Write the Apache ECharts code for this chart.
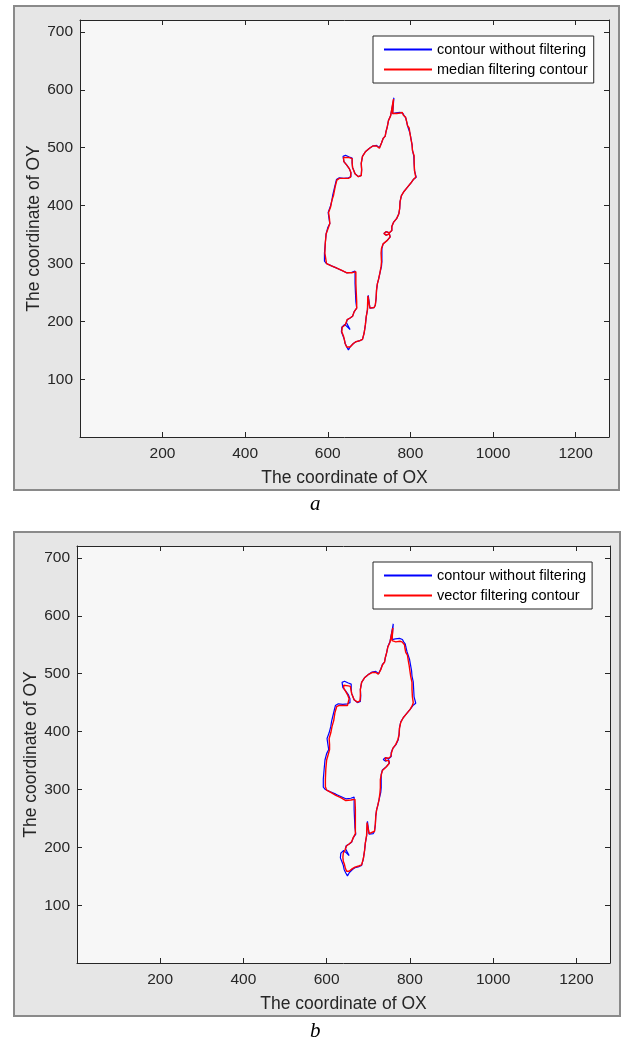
<!DOCTYPE html>
<html>
<head>
<meta charset="utf-8">
<title>contour filtering</title>
<script src="https://cdn.jsdelivr.net/npm/echarts@6/dist/echarts.min.js"></script>
<style>
  html, body { margin: 0; padding: 0; background: #ffffff; }
  #main { width: 621px; height: 1043px; }
</style>
</head>
<body>
<div id="main"></div>
<script>
var xTicks = [200, 400, 600, 800, 1000, 1200];
var yTicks = [100, 200, 300, 400, 500, 600, 700];

// contour without filtering (raw boundary, image pixel coords)
var rawContour = [
  [760,586],[757,559],[765,560],[768,562],[775,561],[779,563],[782,559],[785,555],[789,551],[790,547],
  [793,546],[793,538],[796,537],[799,525],[802,523],[804,505],[805,496],[807,494],[808,486],[811,484],
  [810,460],[813,458],[814,449],[807,445],[801,439],[793,432],[784,424],[778,417],[775,407],[774,395],
  [772,386],[767,378],[759,371],[755,364],[755,357],[749,353],[741,355],[736,352],[741,349],[749,351],
  [751,346],[744,340],[734,334],[731,326],[731,318],[731,303],[730,295],[726,283],[723,273],[720,265],
  [718,254],[717,240],[715,228],[712,224],[702,223],[698,221],[698,245],[696,220],[693,208],[691,194],
  [688,180],[684,169],[678,167],[668,165],[662,162],[654,156],[650,151],[646,156],[642,162],[640,169],
  [637,175],[633,182],[634,190],[641,195],[654,186],[645,198],[647,203],[654,206],[660,209],[664,217],
  [670,223],[668,234],[667,249],[666,266],[666,287],[658,285],[646,284],[634,288],[622,292],[609,296],
  [597,300],[592,304],[592,318],[594,335],[596,351],[600,362],[605,369],[603,378],[601,388],[606,398],
  [610,409],[612,418],[616,420],[617,433],[621,445],[628,448],[639,447],[650,448],[656,450],[656,457],
  [652,464],[646,470],[639,476],[637,485],[643,487],[652,484],[659,482],[659,474],[660,466],[666,455],
  [674,450],[681,452],[682,462],[681,473],[684,485],[691,493],[701,499],[709,503],[718,504],[725,500],
  [730,508],[734,516],[739,520],[741,528],[744,536],[747,547],[752,555],[760,586]
];

// median filtering contour
var medianContour = [
  [759,584],[757,559],[767,559],[775,560],[780,561],[783,556],[788,553],[791,545],[793,538],[797,534],
  [799,524],[801,516],[804,505],[805,495],[809,486],[809,473],[810,460],[813,449],[807,445],[801,439],
  [793,432],[784,424],[778,417],[775,407],[774,395],[772,386],[767,378],[759,371],[755,364],[755,357],
  [749,353],[741,355],[736,352],[741,349],[749,351],[751,346],[744,340],[734,334],[730,326],[729,318],
  [730,303],[729,295],[726,283],[723,273],[720,265],[718,254],[717,240],[715,228],[712,224],[702,223],
  [698,221],[697,244],[696,220],[693,208],[691,194],[688,180],[684,169],[678,167],[668,165],[662,162],
  [654,156],[651,153],[646,156],[642,162],[640,169],[638,175],[634,182],[635,190],[642,194],[647,203],
  [654,206],[660,209],[664,217],[670,223],[670,234],[669,249],[668,266],[668,286],[658,284],[646,284],
  [634,288],[622,292],[609,296],[597,300],[593,303],[593,318],[594,335],[596,351],[601,361],[605,369],
  [604,378],[602,388],[607,398],[610,409],[614,418],[618,433],[622,444],[628,447],[639,447],[650,447],
  [655,449],[656,457],[652,464],[646,470],[639,476],[638,483],[642,486],[652,483],[659,481],[659,474],
  [660,466],[666,455],[674,450],[681,452],[682,462],[681,473],[684,485],[691,493],[701,499],[709,503],
  [718,503],[725,499],[730,508],[734,516],[739,520],[741,528],[744,536],[747,547],[752,555],[759,584]
];

// vector filtering contour (smoother, cuts the raw corners)
var vectorContour = [
  [759,579],[757,557],[766,555],[776,556],[781,555],[784,553],[787,550],[788,544],[790,537],[794,532],
  [796,523],[798,515],[800,505],[802,495],[805,485],[805,473],[806,460],[808,450],[805,444],[800,438],
  [792,431],[784,424],[778,416],[775,406],[774,395],[771,386],[766,378],[759,371],[756,364],[754,357],
  [748,354],[741,355],[738,352],[742,350],[749,350],[750,345],[743,339],[734,333],[731,325],[729,317],
  [729,303],[728,294],[726,283],[723,273],[720,265],[718,254],[717,240],[715,228],[711,225],[702,224],
  [698,222],[697,243],[696,221],[693,208],[691,194],[688,180],[684,170],[677,168],[668,166],[661,163],
  [654,159],[652,157],[648,159],[645,164],[643,170],[640,176],[639,183],[640,190],[644,195],[648,203],
  [654,206],[660,210],[664,217],[669,224],[669,234],[669,249],[669,266],[668,283],[658,282],[646,281],
  [634,286],[622,290],[610,295],[600,299],[597,305],[597,318],[598,335],[600,351],[604,361],[607,369],
  [607,378],[606,388],[610,398],[613,409],[617,419],[620,433],[624,443],[629,445],[639,445],[650,445],
  [653,447],[654,457],[650,464],[646,469],[641,475],[641,480],[644,481],[652,479],[657,478],[658,474],
  [660,466],[666,455],[674,451],[680,453],[681,462],[681,473],[684,485],[691,493],[701,499],[709,502],
  [718,502],[724,499],[730,507],[734,515],[739,520],[741,528],[744,536],[747,546],[752,554],[759,579]
];

var FONT = '"Liberation Sans", Arial, sans-serif';
var AX = '#262626';
var BLUE = '#0000ff';
var RED = '#ff0000';

function plain(v) { return String(v); }

function xAx(grid, pos, withLabels) {
  return {
    type: 'value', gridIndex: grid, position: pos,
    min: 0.5, max: 1280.5,
    name: withLabels ? 'The coordinate of OX' : '',
    nameLocation: 'middle', nameGap: 32, nameMoveOverlap: false,
    nameTextStyle: { fontFamily: FONT, fontSize: 17.5, color: AX },
    axisLine: { show: true, onZero: false, lineStyle: { color: AX, width: 1 } },
    axisTick: { show: true, inside: true, length: 5, customValues: xTicks, lineStyle: { color: AX } },
    axisLabel: { show: withLabels, customValues: xTicks, formatter: plain, margin: 9,
                 fontFamily: FONT, fontSize: 15.5, color: AX },
    splitLine: { show: false }
  };
}
function yAx(grid, pos, withLabels) {
  return {
    type: 'value', gridIndex: grid, position: pos,
    min: 0.5, max: 720.5,
    name: withLabels ? 'The coordinate of OY' : '',
    nameLocation: 'middle', nameGap: 37, nameRotate: 90, nameMoveOverlap: false,
    nameTextStyle: { fontFamily: FONT, fontSize: 17.5, color: AX },
    axisLine: { show: true, onZero: false, lineStyle: { color: AX, width: 1 } },
    axisTick: { show: true, inside: true, length: 5, customValues: yTicks, lineStyle: { color: AX } },
    axisLabel: { show: withLabels, customValues: yTicks, formatter: plain, margin: 7,
                 fontFamily: FONT, fontSize: 15.5, color: AX },
    splitLine: { show: false }
  };
}
function legendAt(top, names) {
  return {
    orient: 'vertical', left: 373, top: top,
    data: names,
    itemWidth: 48, itemHeight: 14, itemGap: 5,
    itemStyle: { opacity: 0 },       // hide the symbol, keep the line sample
    padding: [6, 6, 6, 10],
    backgroundColor: '#ffffff',
    borderColor: AX, borderWidth: 1, borderRadius: 0,
    textStyle: { fontFamily: FONT, fontSize: 14.5, color: '#000' },
    selectedMode: false
  };
}
function contour(name, data, color, xi, yi, w) {
  return {
    type: 'line', name: name, data: data,
    xAxisIndex: xi, yAxisIndex: yi,
    symbol: 'none', showSymbol: false, smooth: false, clip: true,
    lineStyle: { color: color, width: w },
    itemStyle: { color: color }
  };
}

var myChart = echarts.init(document.getElementById('main'), null, { renderer: 'canvas' });

var option = {
  animation: false,
  backgroundColor: '#ffffff',
  graphic: [
    { type: 'rect', z: -100, shape: { x: 14, y: 6, width: 605, height: 484 },
      style: { fill: '#e6e6e6', stroke: '#8a8a8a', lineWidth: 2 } },
    { type: 'rect', z: -100, shape: { x: 14, y: 532, width: 606, height: 484 },
      style: { fill: '#e6e6e6', stroke: '#8a8a8a', lineWidth: 2 } },
    { type: 'text', left: 310, top: 494, style: { text: 'a', font: 'italic 21px "Liberation Serif", serif', fill: '#000' } },
    { type: 'text', left: 310, top: 1021, style: { text: 'b', font: 'italic 21px "Liberation Serif", serif', fill: '#000' } }
  ],
  grid: [
    { left: 80, top: 20, width: 529, height: 417, show: true, backgroundColor: '#f7f7f7', borderWidth: 0 },
    { left: 77, top: 546, width: 533, height: 417, show: true, backgroundColor: '#f7f7f7', borderWidth: 0 }
  ],
  xAxis: [ xAx(0, 'bottom', true), xAx(0, 'top', false), xAx(1, 'bottom', true), xAx(1, 'top', false) ],
  yAxis: [ yAx(0, 'left', true), yAx(0, 'right', false), yAx(1, 'left', true), yAx(1, 'right', false) ],
  legend: [
    legendAt(36, ['contour without filtering', 'median filtering contour']),
    legendAt(562, ['contour without filtering', 'vector filtering contour'])
  ],
  series: [
    contour('contour without filtering', rawContour, BLUE, 0, 0, 1.2),
    contour('median filtering contour', medianContour, RED, 0, 0, 1.4),
    contour('contour without filtering', rawContour, BLUE, 2, 2, 1.2),
    contour('vector filtering contour', vectorContour, RED, 2, 2, 1.4)
  ]
};

myChart.setOption(option);
</script>
</body>
</html>
